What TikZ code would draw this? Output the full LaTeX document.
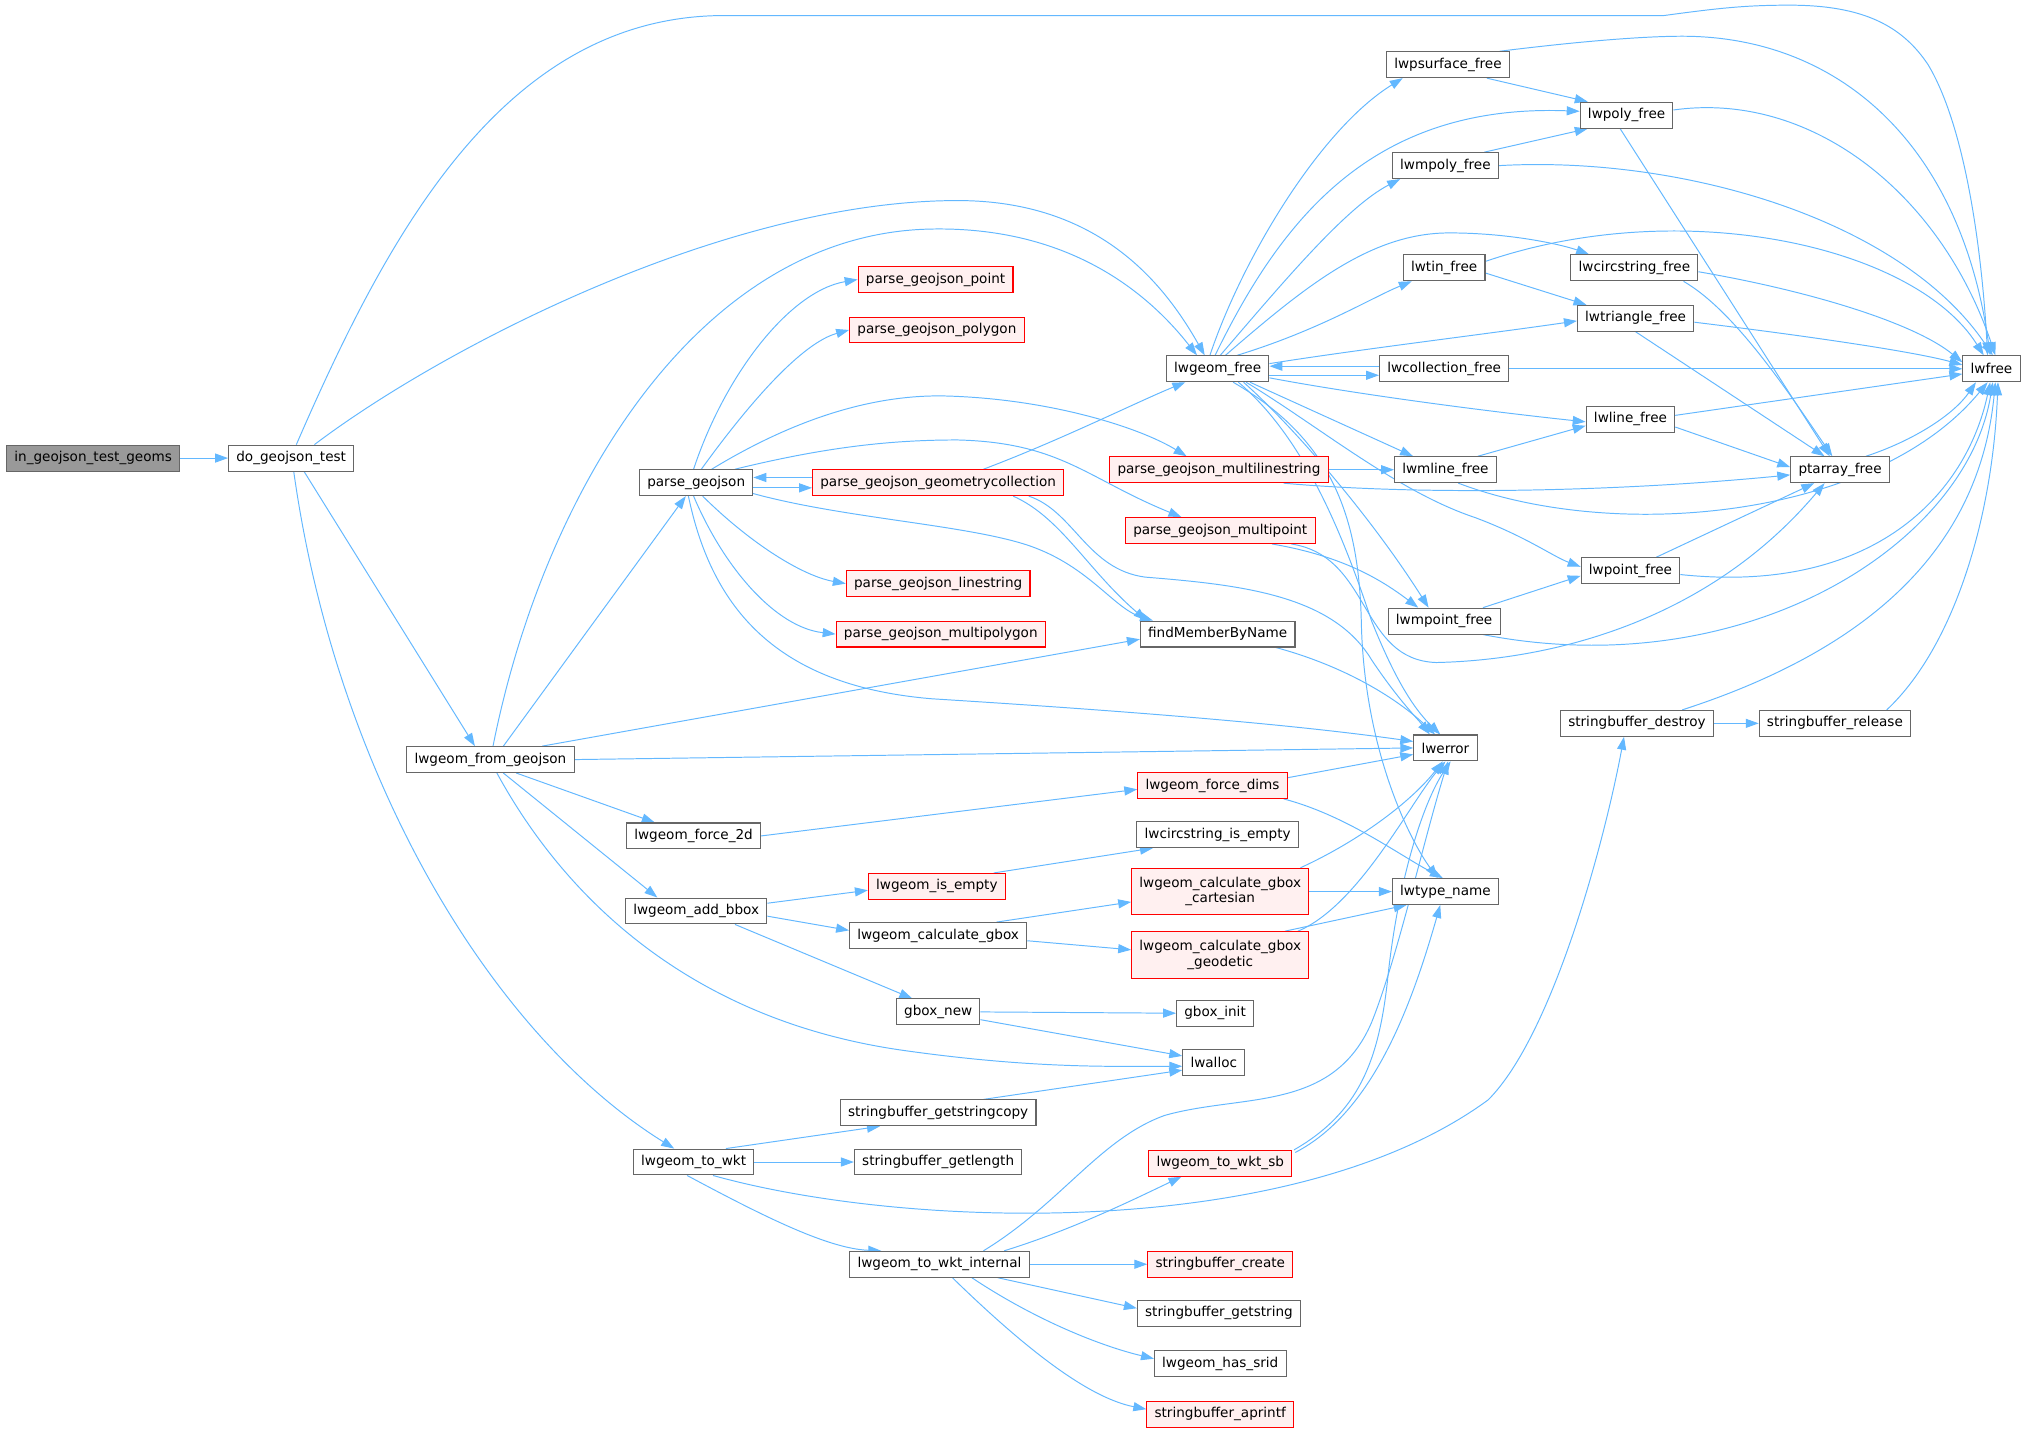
\documentclass[tikz,border=0pt]{standalone}
\usepackage{fontspec}
\setmainfont{DejaVu Sans}
\usetikzlibrary{arrows.meta}
\pgfdeclarelayer{canvas}
\pgfdeclarelayer{edges}
\pgfsetlayers{canvas,edges,main}
\definecolor{edgec}{HTML}{63B8FF}
\definecolor{bordc}{HTML}{666666}
\definecolor{hlfill}{HTML}{999999}
\definecolor{redfill}{HTML}{FFF0F0}
\begin{document}
\begin{tikzpicture}[x=1pt,y=-1pt, font=\fontsize{10.5}{12}\selectfont,
  fn/.style={draw=bordc, fill=white, line width=0.8pt, minimum height=20pt, inner xsep=6pt, inner ysep=0pt, align=center},
  hl/.style={fn, fill=hlfill},
  rd/.style={fn, draw=red, fill=redfill},
  ed/.style={draw=edgec, line width=0.75pt, -{Triangle[length=10pt,width=7pt]}}]
\begin{pgfonlayer}{canvas}
\fill[white] (0,0) rectangle (1568,1107);
\end{pgfonlayer}
\useasboundingbox (0,0) rectangle (1568,1107);
% nodes
\node[hl] (ingeo) at (72,354) {in\_geojson\_test\_geoms};
\node[fn] (dogeo) at (225,354) {do\_geojson\_test};
\node[fn] (fromgeo) at (379,587) {lwgeom\_from\_geojson};
\node[fn] (parse) at (538,373) {parse\_geojson};
\node[fn] (force2d) at (536,646) {lwgeom\_force\_2d};
\node[fn] (addbbox) at (538,704) {lwgeom\_add\_bbox};
\node[fn] (towkt) at (536,898) {lwgeom\_to\_wkt};
\node[rd] (ppoint) at (723,216) {parse\_geojson\_point};
\node[rd] (ppoly) at (724,255) {parse\_geojson\_polygon};
\node[rd] (pgc) at (725,373) {parse\_geojson\_geometrycollection};
\node[rd] (pline) at (725,451) {parse\_geojson\_linestring};
\node[rd] (pmpoly) at (727,490) {parse\_geojson\_multipolygon};
\node[rd] (isempty) at (724,685) {lwgeom\_is\_empty};
\node[fn] (calcgbox) at (725,723) {lwgeom\_calculate\_gbox};
\node[fn] (gboxnew) at (725,782) {gbox\_new};
\node[fn] (getstrcopy) at (725,860) {stringbuffer\_getstringcopy};
\node[fn] (getlength) at (725,898) {stringbuffer\_getlength};
\node[fn] (wktint) at (726,977) {lwgeom\_to\_wkt\_internal};
\node[fn] (lwgeomfree) at (941,285) {lwgeom\_free};
\node[rd] (pmls) at (942,363) {parse\_geojson\_multilinestring};
\node[rd] (pmpt) at (943,410) {parse\_geojson\_multipoint};
\node[fn] (findm) at (941,490) {findMemberByName};
\node[rd] (forcedims) at (937,607) {lwgeom\_force\_dims};
\node[fn] (circempty) at (941,645) {lwcircstring\_is\_empty};
\node[rd,minimum height=36pt] (cart) at (943,689) {lwgeom\_calculate\_gbox\\\_cartesian};
\node[rd,minimum height=36pt] (geod) at (943,738) {lwgeom\_calculate\_gbox\\\_geodetic};
\node[fn] (gboxinit) at (939,783) {gbox\_init};
\node[fn] (lwalloc) at (938,821) {lwalloc};
\node[rd] (wktsb) at (943,899) {lwgeom\_to\_wkt\_sb};
\node[rd] (sbcreate) at (943,977) {stringbuffer\_create};
\node[fn] (sbgetstring) at (942,1015) {stringbuffer\_getstring};
\node[fn] (hassrid) at (943,1054) {lwgeom\_has\_srid};
\node[rd] (aprintf) at (943,1093) {stringbuffer\_aprintf};
\node[fn] (lwpsurface) at (1119,50) {lwpsurface\_free};
\node[fn] (lwmpoly) at (1117,128) {lwmpoly\_free};
\node[fn] (lwtin) at (1116,207) {lwtin\_free};
\node[fn] (lwcoll) at (1116,285) {lwcollection\_free};
\node[fn] (lwmline) at (1117,363) {lwmline\_free};
\node[fn] (lwmpoint) at (1116,480) {lwmpoint\_free};
\node[fn] (lwerror) at (1117,578) {lwerror};
\node[fn] (lwtype) at (1117,689) {lwtype\_name};
\node[fn] (lwpoly) at (1257,89) {lwpoly\_free};
\node[fn] (lwcirc) at (1263,207) {lwcircstring\_free};
\node[fn] (lwtri) at (1264,246) {lwtriangle\_free};
\node[fn] (lwline) at (1260,324) {lwline\_free};
\node[fn] (lwpoint) at (1260,441) {lwpoint\_free};
\node[fn] (sbdestroy) at (1265,559) {stringbuffer\_destroy};
\node[fn] (ptarray) at (1422,363) {ptarray\_free};
\node[fn] (sbrelease) at (1418,559) {stringbuffer\_release};
\node[fn] (lwfree) at (1539,285) {lwfree};
\begin{pgfonlayer}{edges}
% edges: left part
\draw[ed] (ingeo) -- (dogeo);
\draw[ed] ([xshift=4pt]dogeo.north) .. controls (300,180) and (390,12) .. (560,12) -- (1286,12) .. controls (1330,6) and (1350,4) .. (1383,4) .. controls (1440,4) and (1470,20) .. (1490,50) .. controls (1520,100) and (1532,200) .. ([xshift=-3pt]lwfree.north);
\draw[ed] ([xshift=18pt]dogeo.north) .. controls (340,270) and (560,155) .. (740,155) .. controls (850,155) and (900,220) .. ([xshift=-10pt]lwgeomfree.north);
\draw[ed] ([xshift=10pt]dogeo.south) -- ([xshift=-12pt]fromgeo.north);
\draw[ed] ([xshift=2pt]dogeo.south) .. controls (260,600) and (380,800) .. ([xshift=-15pt]towkt.north);
\draw[ed] ([xshift=2pt]fromgeo.north) .. controls (420,380) and (540,180) .. (720,177) .. controls (830,175) and (890,230) .. ([xshift=-16pt]lwgeomfree.north);
\draw[ed] ([xshift=10pt]fromgeo.north) -- ([xshift=-8pt]parse.south);
\draw[ed] ([xshift=40pt]fromgeo.north) -- ([yshift=-4pt]findm.west);
\draw[ed] (fromgeo.east) -- (lwerror.west);
\draw[ed] ([xshift=20pt]fromgeo.south) -- ([xshift=-30pt]force2d.north);
\draw[ed] ([xshift=10pt]fromgeo.south) -- ([xshift=-30pt]addbbox.north);
\draw[ed] ([xshift=5pt]fromgeo.south) .. controls (440,700) and (540,790) .. (700,812) .. controls (800,826) and (860,824) .. ([yshift=-3pt]lwalloc.west);
% parse_geojson
\draw[ed] ([xshift=-2pt]parse.north) .. controls (560,290) and (610,225) .. (ppoint.west);
\draw[ed] ([xshift=4pt]parse.north) .. controls (580,310) and (620,265) .. (ppoly.west);
\draw[ed] ([xshift=12pt]parse.north) .. controls (620,320) and (680,305) .. (730,306) .. controls (810,308) and (880,330) .. ([xshift=-25pt]pmls.north);
\draw[ed] ([xshift=30pt]parse.north) .. controls (640,345) and (690,340) .. (740,340) .. controls (820,342) and (840,370) .. ([xshift=-30pt]pmpt.north);
\draw[ed] ([yshift=-4pt]parse.east) -- ([yshift=-4pt]pgc.west);
\draw[ed] ([yshift=4pt]pgc.west) -- ([yshift=4pt]parse.east);
\draw[ed] ([xshift=5pt]parse.south) .. controls (580,420) and (620,445) .. (pline.west);
\draw[ed] ([xshift=-2pt]parse.south) .. controls (560,440) and (600,485) .. (pmpoly.west);
\draw[ed] ([xshift=44pt,yshift=2pt]parse.south) .. controls (650,400) and (740,405) .. (790,420) .. controls (840,435) and (860,470) .. ([xshift=-50pt]findm.north);
\draw[ed] ([xshift=-6pt]parse.south) .. controls (550,470) and (600,530) .. (720,540) .. controls (880,550) and (1000,560) .. ([yshift=5pt]lwerror.west);
% geometrycollection
\draw[ed] ([xshift=35pt]pgc.north) .. controls (820,340) and (880,310) .. ([xshift=-25pt]lwgeomfree.south);
\draw[ed] ([xshift=58pt]pgc.south) .. controls (820,400) and (840,440) .. ([xshift=-55pt]findm.north);
\draw[ed] ([xshift=70pt]pgc.south) .. controls (830,395) and (840,440) .. (885,446) .. controls (960,452) and (1030,460) .. (1060,510) .. controls (1080,540) and (1095,555) .. ([xshift=-12pt]lwerror.north);
% multi
\draw[ed] (pmls.east) -- (lwmline.west);
\draw[ed] ([xshift=50pt]pmls.south) .. controls (1100,383) and (1250,380) .. ([yshift=-4pt]ptarray.west);
\draw[ed] ([xshift=40pt]pmpt.south) .. controls (1040,430) and (1070,450) .. ([xshift=-20pt]lwmpoint.north);
\draw[ed] ([xshift=55pt]pmpt.south) .. controls (1060,430) and (1050,510) .. (1110,512) .. controls (1200,510) and (1320,480) .. ([xshift=-12pt]ptarray.south);
\draw[ed] ([xshift=45pt]findm.south) .. controls (1040,515) and (1080,540) .. ([xshift=-8pt]lwerror.north);
% lwgeom_free
\draw[ed] ([xshift=-6pt]lwgeomfree.north) .. controls (960,200) and (1020,100) .. ([xshift=-35pt]lwpsurface.south);
\draw[ed] ([xshift=-2pt]lwgeomfree.north) .. controls (990,170) and (1060,80) .. ([yshift=3pt]lwpoly.west);
\draw[ed] ([xshift=2pt]lwgeomfree.north) .. controls (990,220) and (1040,160) .. ([xshift=-35pt]lwmpoly.south);
\draw[ed] ([xshift=6pt]lwgeomfree.north) .. controls (1010,220) and (1060,180) .. (1120,180) .. controls (1170,180) and (1210,190) .. ([xshift=-35pt]lwcirc.north);
\draw[ed] ([xshift=15pt]lwgeomfree.north) .. controls (1020,255) and (1060,230) .. ([xshift=-25pt]lwtin.south);
\draw[ed] ([yshift=4pt]lwgeomfree.east) .. controls (1050,270) and (1150,258) .. ([yshift=-2pt]lwtri.west);
\draw[ed] ([yshift=2pt]lwcoll.west) -- ([yshift=2pt]lwgeomfree.east);
\draw[ed] ([yshift=-5pt]lwgeomfree.east) -- ([yshift=-5pt]lwcoll.west);
\draw[ed] ([yshift=-7pt]lwgeomfree.east) .. controls (1050,305) and (1150,318) .. ([yshift=-2pt]lwline.west);
\draw[ed] ([xshift=25pt]lwgeomfree.south) -- ([xshift=-25pt]lwmline.north);
\draw[ed] ([xshift=20pt]lwgeomfree.south) .. controls (1000,330) and (1060,400) .. ([xshift=-12pt]lwmpoint.north);
\draw[ed] ([xshift=22pt]lwgeomfree.south) .. controls (1020,330) and (1080,380) .. (1140,400) .. controls (1180,415) and (1200,430) .. ([yshift=3pt]lwpoint.west);
\draw[ed] ([xshift=16pt]lwgeomfree.south) .. controls (1010,340) and (1040,420) .. (1060,480) .. controls (1080,530) and (1095,550) .. ([xshift=-4pt]lwerror.north);
\draw[ed] ([xshift=12pt]lwgeomfree.south) .. controls (1030,340) and (1050,400) .. (1052,480) .. controls (1054,580) and (1090,650) .. ([xshift=-6pt]lwtype.north);
% right column
\draw[ed] ([xshift=30pt]lwpsurface.south) -- ([xshift=-30pt]lwpoly.north);
\draw[ed] ([xshift=40pt]lwpsurface.north) .. controls (1220,32) and (1270,28) .. (1300,28) .. controls (1420,28) and (1515,110) .. ([xshift=-1pt]lwfree.north);
\draw[ed] ([xshift=30pt]lwmpoly.north) -- ([xshift=-30pt]lwpoly.south);
\draw[ed] (lwmpoly.east) .. controls (1300,120) and (1470,170) .. ([xshift=1pt]lwfree.north);
\draw[ed] ([xshift=-5pt]lwpoly.south) -- ([xshift=-8pt]ptarray.north);
\draw[ed] ([yshift=4pt]lwpoly.east) .. controls (1400,70) and (1500,150) .. ([xshift=3pt]lwfree.north);
\draw[ed] ([yshift=-4pt]lwtin.east) -- ([xshift=-38pt]lwtri.north);
\draw[ed] ([yshift=5pt]lwtin.east) .. controls (1300,150) and (1480,190) .. ([xshift=-6pt]lwfree.north);
\draw[ed] ([xshift=38pt]lwcirc.south) .. controls (1340,240) and (1380,300) .. ([xshift=-6pt]ptarray.north);
\draw[ed] ([yshift=-3pt]lwcirc.east) .. controls (1400,225) and (1480,250) .. ([yshift=5pt]lwfree.west);
\draw[ed] ([xshift=0pt]lwtri.south) -- ([xshift=-12pt]ptarray.north);
\draw[ed] ([yshift=-3pt]lwtri.east) .. controls (1400,260) and (1480,272) .. ([yshift=3pt]lwfree.west);
\draw[ed] (lwcoll.east) -- (lwfree.west);
\draw[ed] ([yshift=3pt]lwline.east) -- ([yshift=-4pt]lwfree.west);
\draw[ed] ([yshift=-6pt]lwline.east) -- ([yshift=2pt]ptarray.west);
\draw[ed] ([xshift=25pt]lwmline.north) -- ([yshift=-5pt]lwline.west);
\draw[ed] ([xshift=10pt]lwmline.south) .. controls (1250,420) and (1450,400) .. ([xshift=-3pt]lwfree.south);
\draw[ed] ([xshift=20pt]ptarray.north) .. controls (1480,340) and (1510,320) .. ([xshift=-12pt]lwfree.south);
\draw[ed] ([xshift=20pt]lwpoint.north) -- ([xshift=-20pt]ptarray.south);
\draw[ed] ([yshift=-3pt]lwpoint.east) .. controls (1450,460) and (1520,380) .. ([xshift=-1pt]lwfree.south);
\draw[ed] ([xshift=30pt]lwmpoint.north) -- ([yshift=-4pt]lwpoint.west);
\draw[ed] ([xshift=30pt]lwmpoint.south) .. controls (1350,530) and (1520,420) .. ([xshift=1pt]lwfree.south);
\draw[ed] (sbdestroy) -- (sbrelease);
\draw[ed] ([xshift=35pt]sbdestroy.north) .. controls (1450,500) and (1530,420) .. ([xshift=3pt]lwfree.south);
\draw[ed] ([xshift=40pt]sbrelease.north) .. controls (1510,500) and (1540,400) .. ([xshift=5pt]lwfree.south);
% lower part
\draw[ed] (force2d.east) -- ([yshift=-3pt]forcedims.west);
\draw[ed] ([yshift=6pt]forcedims.east) -- ([yshift=-5pt]lwerror.west);
\draw[ed] ([xshift=55pt]forcedims.south) .. controls (1040,630) and (1080,660) .. ([xshift=-2pt]lwtype.north);
\draw[ed] ([yshift=6pt]addbbox.east) -- ([yshift=-3pt]isempty.west);
\draw[ed] ([yshift=-4pt]addbbox.east) -- ([yshift=4pt]calcgbox.west);
\draw[ed] ([xshift=30pt]addbbox.south) -- ([xshift=-20pt]gboxnew.north);
\draw[ed] ([xshift=44pt]isempty.north) -- ([xshift=-50pt]circempty.south);
\draw[ed] ([xshift=45pt]calcgbox.north) -- ([yshift=-8pt]cart.west);
\draw[ed] ([yshift=-4pt]calcgbox.east) -- ([yshift=4pt]geod.west);
\draw[ed] ([xshift=62pt]cart.north) .. controls (1050,650) and (1090,620) .. ([xshift=-2pt]lwerror.south);
\draw[ed] (cart.east) -- (lwtype.west);
\draw[ed] ([xshift=50pt]geod.north) -- ([xshift=-30pt]lwtype.south);
\draw[ed] ([xshift=60pt]geod.north) .. controls (1050,700) and (1090,620) .. ([xshift=0pt]lwerror.south);
\draw[ed] (gboxnew.east) -- (gboxinit.west);
\draw[ed] ([yshift=-6pt]gboxnew.east) -- ([yshift=5pt]lwalloc.west);
\draw[ed] ([xshift=35pt]getstrcopy.north) -- ([yshift=-6pt]lwalloc.west);
\draw[ed] ([xshift=25pt]towkt.north) -- ([xshift=-45pt]getstrcopy.south);
\draw[ed] (towkt.east) -- (getlength.west);
\draw[ed] ([xshift=15pt]towkt.south) .. controls (700,950) and (1000,960) .. (1150,850) .. controls (1200,800) and (1240,650) .. ([xshift=-10pt]sbdestroy.south);
\draw[ed] ([xshift=-5pt]towkt.south) .. controls (590,940) and (640,965) .. ([xshift=-45pt]wktint.north);
\draw[ed] ([xshift=34pt]wktint.north) .. controls (820,930) and (850,880) .. (900,862) .. controls (960,845) and (1030,860) .. (1060,790) .. controls (1080,740) and (1100,650) .. ([xshift=2pt]lwerror.south);
\draw[ed] ([xshift=50pt]wktint.north) .. controls (830,950) and (880,925) .. ([xshift=-30pt]wktsb.south);
\draw[ed] (wktint.east) -- (sbcreate.west);
\draw[ed] ([xshift=45pt]wktint.south) -- ([yshift=4pt]sbgetstring.west);
\draw[ed] ([xshift=25pt]wktint.south) .. controls (800,1020) and (850,1040) .. ([yshift=4pt]hassrid.west);
\draw[ed] ([xshift=10pt]wktint.south) .. controls (790,1040) and (840,1080) .. ([yshift=4pt]aprintf.west);
\draw[ed] ([xshift=57pt]wktsb.north) .. controls (1050,860) and (1065,820) .. (1072,760) .. controls (1080,680) and (1100,620) .. ([xshift=4pt]lwerror.south);
\draw[ed] ([xshift=58pt,yshift=-2pt]wktsb.north) .. controls (1060,860) and (1090,780) .. ([xshift=-4pt]lwtype.south);
\end{pgfonlayer}
\end{tikzpicture}
\end{document}
